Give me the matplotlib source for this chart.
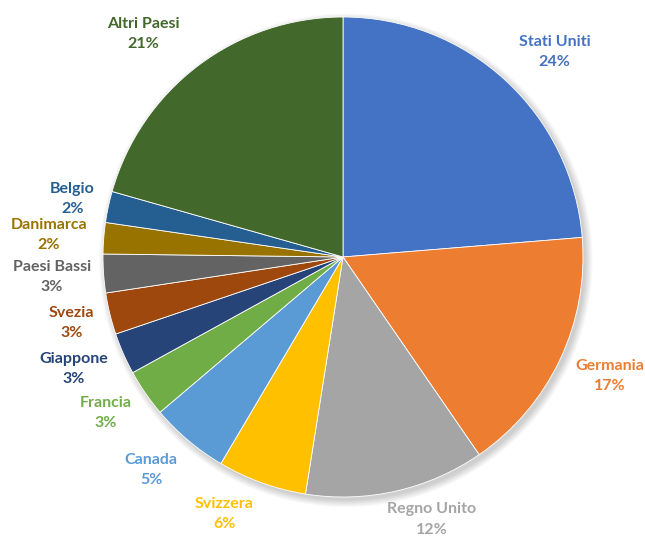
import numpy as np
import matplotlib
matplotlib.use("Agg")
import matplotlib.pyplot as plt
from matplotlib.patches import Circle

# Share of each country (percent), clockwise from 12 o'clock
paesi = ["Stati Uniti", "Germania", "Regno Unito", "Svizzera", "Canada",
         "Francia", "Giappone", "Svezia", "Paesi Bassi", "Danimarca",
         "Belgio", "Altri Paesi"]
quote = [23.7, 16.7, 12.1, 6.0, 5.3, 3.2, 2.8, 2.8, 2.6, 2.1, 2.1, 20.6]
colori = ["#4472C4", "#ED7D31", "#A5A5A5", "#FFC000", "#5B9BD5", "#70AD47",
          "#264478", "#9E480E", "#636363", "#997300", "#255E91", "#43682B"]

plt.rcParams["font.family"] = ["Lato", "DejaVu Sans"]

W, H = 645, 538
fig = plt.figure(figsize=(W / 100, H / 100), dpi=100)
cx, cy, R = 343, 257, 240
half = R * 1.25
ax = fig.add_axes([(cx - half) / W, (H - cy - half) / H, 2 * half / W, 2 * half / H])
ax.set_xlim(-1.25, 1.25)
ax.set_ylim(-1.25, 1.25)
ax.set_aspect("equal")
ax.axis("off")

# soft drop shadow under the pie
for i in range(8):
    ax.add_patch(Circle((0.012, -0.014), 1.0 + 0.004 * i, color="black",
                        alpha=0.025, lw=0, zorder=0))

wedges, _ = ax.pie(quote, colors=colori, startangle=90, counterclock=False,
                   radius=1.0, wedgeprops=dict(edgecolor="white", linewidth=0.6),
                   normalize=True)
for w in wedges:
    w.set_zorder(1)

# hand-tuned shifts (pixels: right, down) for labels that would crowd their neighbours
spostamenti = {"Stati Uniti": (18, 5), "Germania": (6, -5), "Regno Unito": (28, -5),
               "Svizzera": (-26, -1), "Canada": (-12, 0), "Francia": (-6, -3),
               "Giappone": (-5, -4), "Svezia": (-2, 0), "Danimarca": (-4, 1),
               "Altri Paesi": (-28, 4)}

renderer = fig.canvas.get_renderer()
px_per_unit = R  # one data unit equals the pie radius in pixels
gap = 1.05
tot = sum(quote)
for w, nome, q, c in zip(wedges, paesi, quote, colori):
    mid = np.deg2rad((w.theta1 + w.theta2) / 2)
    ux, uy = np.cos(mid), np.sin(mid)
    t = ax.text(0, 0, f"{nome}\n{q / tot * 100:.0f}%",
                ha="center", va="center", color=c, fontsize=11.5,
                fontweight="bold", linespacing=1.55, clip_on=False)
    bb = t.get_window_extent(renderer)
    hw = bb.width / 2 / px_per_unit
    hh = bb.height / 2 / px_per_unit
    # push the label out until its box clears the rim by the same gap
    d = gap + abs(ux) * hw * 1.0 + abs(uy) * hh * 0.75
    sx, sy = spostamenti.get(nome, (0, 0))
    t.set_position((d * ux + sx / px_per_unit, d * uy - sy / px_per_unit))

fig.savefig("out.png", dpi=100)
